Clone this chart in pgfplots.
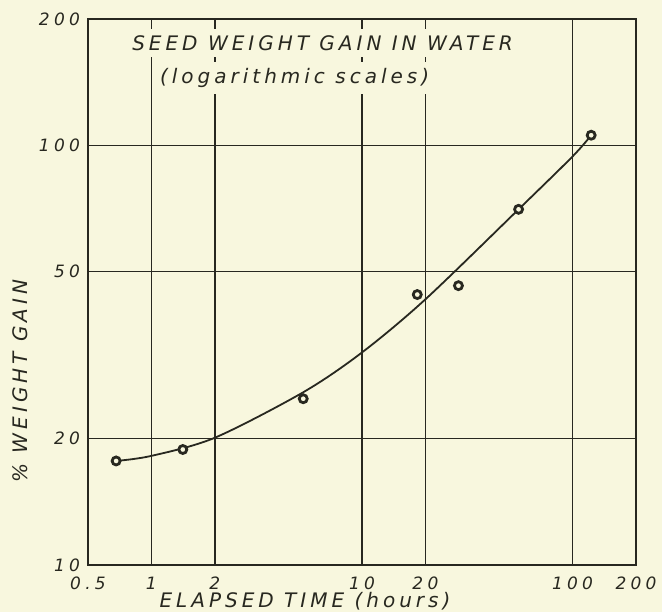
\documentclass[border=0pt]{standalone}
\usepackage{pgfplots}
\pgfplotsset{compat=1.18}
\usepackage{fontspec}
\newfontfamily\lettA[LetterSpace=20]{DejaVu Sans}
\newfontfamily\lettB[LetterSpace=25]{DejaVu Sans}
\definecolor{bg}{RGB}{248,247,222}
\definecolor{ink}{RGB}{40,40,32}
\begin{document}
\begin{tikzpicture}
\fill[bg] (-44pt,-23.5pt) rectangle (287pt,282.5pt);
\begin{axis}[
  at={(0,0)}, anchor=south west,
  scale only axis, width=274pt, height=273pt,
  xmode=log, ymode=log,
  xmin=0.5, xmax=200, ymin=10, ymax=200,
  enlargelimits=false, clip=false,
  xtick={0.5,1,2,10,20,100,200}, xticklabels={0.5,1,2,10,20,100,200},
  ytick={10,20,50,100,200}, yticklabels={10,20,50,100,200},
  minor xtick={}, minor ytick={},
  major tick length=0pt,
  grid=major,
  major grid style={ink, line width=0.8pt},
  axis line style={ink, line width=0.9pt},
  tick label style={font=\lettB\itshape\fontsize{8.5}{10}\selectfont, text=ink},
  xticklabel style={yshift=-2.5pt},
  yticklabel style={xshift=-0.5pt},
]
\addplot[ink, line width=0.9pt, smooth] coordinates {
  (0.68,17.7) (1,18.2) (2,20.1) (5.26,25.8) (10,32.1) (20,42.96) (55.4,70.4) (100,94.1) (122.5,105.7)
};
\addplot[only marks, mark=*, mark size=2pt, mark options={fill=bg, draw=ink, line width=1.4pt}] coordinates {
  (0.68,17.7) (1.41,18.85) (5.26,24.9) (18.3,44.1) (28.7,46.3) (55.4,70.4) (122.5,105.7)
};
\node[font=\lettA\itshape\fontsize{10}{12}\selectfont, text=ink, fill=bg, inner xsep=1pt, inner ysep=3pt] at (rel axis cs:0.428,0.956) {SEED WEIGHT GAIN IN WATER};
\node[font=\lettA\itshape\fontsize{10}{12}\selectfont, text=ink, fill=bg, inner xsep=1pt, inner ysep=3pt] at (rel axis cs:0.377,0.892) {(logarithmic scales)};
\node[font=\lettA\itshape\fontsize{10}{12}\selectfont, text=ink] at (rel axis cs:0.396,-0.066) {ELAPSED TIME (hours)};
\node[font=\lettA\itshape\fontsize{10}{12}\selectfont, text=ink, rotate=90] at (rel axis cs:-0.124,0.337) {\% WEIGHT GAIN};
\end{axis}
\pgfresetboundingbox
\useasboundingbox (-44pt,-23.5pt) rectangle (287pt,282.5pt);
\end{tikzpicture}
\end{document}
